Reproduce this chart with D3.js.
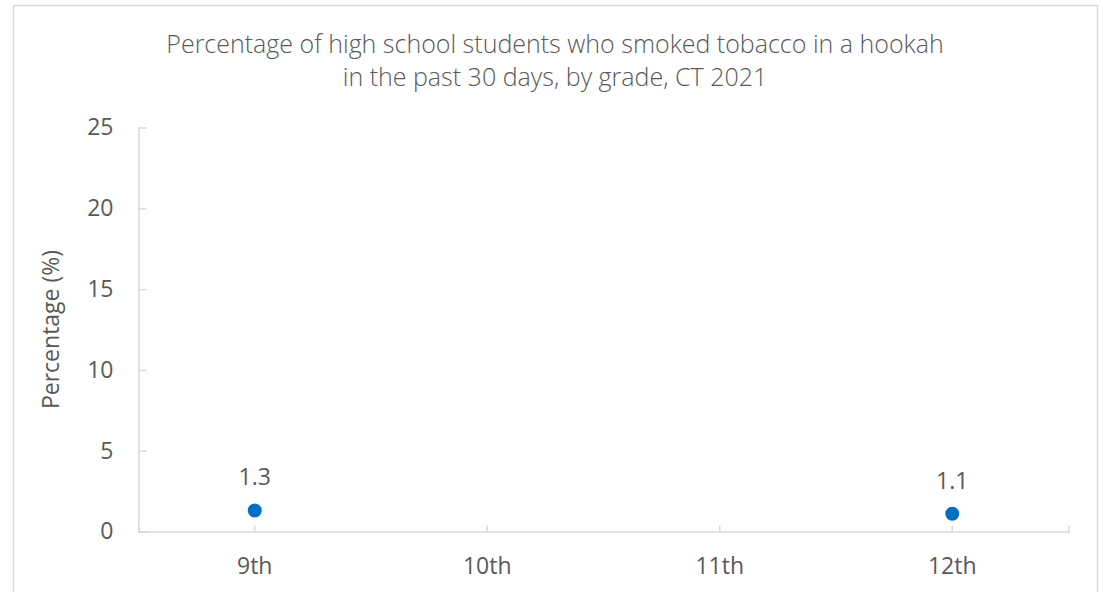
<!DOCTYPE html>
<html>
<head>
<meta charset="utf-8">
<script src="https://cdn.jsdelivr.net/npm/d3@7"></script>
<style>
  html, body { margin: 0; padding: 0; background: #fff; }
  svg { display: block; }
  text { font-family: "Open Sans", "Liberation Sans", sans-serif; fill: #595959; }
  .light { font-weight: 300; }
</style>
</head>
<body>
<svg id="chart" width="1103" height="592"></svg>
<script>
// Hookah use in the past 30 days, by grade (CT 2021)
const grades = ["9th", "10th", "11th", "12th"];
const percentages = [1.3, null, null, 1.1];
const yTicks = [0, 5, 10, 15, 20, 25];
const titleLines = [
  "Percentage of high school students who smoked tobacco in a hookah",
  "in the past 30 days, by grade, CT 2021"
];
const yTitle = "Percentage (%)";

const svg = d3.select("#chart");
const axisColor = "#d9d9d9";
const labelSize = "23px";

// chart frame
svg.append("rect")
  .attr("x", 13.5).attr("y", 5.5)
  .attr("width", 1084).attr("height", 600)
  .attr("fill", "#fff")
  .attr("stroke", axisColor)
  .attr("stroke-width", 1.5);

const plot = { left: 138.5, right: 1068.5, top: 127.5, bottom: 531.5 };

const x = d3.scaleBand().domain(grades).range([plot.left, plot.right]);
const y = d3.scaleLinear().domain([0, 25]).range([plot.bottom, plot.top]);

// title
svg.append("text")
  .attr("class", "light")
  .attr("x", 555).attr("y", 53)
  .attr("text-anchor", "middle")
  .style("font-size", "25px")
  .selectAll("tspan").data(titleLines).join("tspan")
  .attr("x", 555)
  .attr("dy", (d, i) => i === 0 ? 0 : 33)
  .text(d => d);

// y axis
const yAxis = svg.append("g")
  .attr("transform", `translate(${plot.left},0)`)
  .call(d3.axisLeft(y).tickValues(yTicks).tickSizeInner(-8).tickSizeOuter(0).tickPadding(25));
yAxis.selectAll("path, line").attr("stroke", axisColor).attr("stroke-width", 1.5);
yAxis.selectAll("text").style("font-size", labelSize).attr("fill", "#595959").attr("font-family", null);

// x axis
const xAxis = svg.append("g")
  .attr("transform", `translate(0,${plot.bottom})`)
  .call(d3.axisBottom(x).tickSizeInner(-6).tickSizeOuter(-6).tickPadding(26));
xAxis.selectAll("path, line").attr("stroke", axisColor).attr("stroke-width", 1.5);
xAxis.selectAll("text").style("font-size", labelSize).attr("fill", "#595959").attr("font-family", null);

// y axis title
svg.append("text")
  .attr("transform", `translate(59,${(plot.top + plot.bottom) / 2}) rotate(-90)`)
  .attr("text-anchor", "middle")
  .style("font-size", labelSize)
  .text(yTitle);

// points and value labels
const pts = grades.map((g, i) => ({ grade: g, value: percentages[i] })).filter(d => d.value != null);
const cx = d => x(d.grade) + x.bandwidth() / 2;

svg.append("g").selectAll("circle").data(pts).join("circle")
  .attr("cx", cx)
  .attr("cy", d => y(d.value))
  .attr("r", 7)
  .attr("fill", "#0070c0");

svg.append("g").selectAll("text").data(pts).join("text")
  .attr("x", cx)
  .attr("y", d => y(d.value) - 25)
  .attr("text-anchor", "middle")
  .style("font-size", labelSize)
  .attr("fill", "#404040")
  .text(d => d.value.toFixed(1));
</script>
</body>
</html>
